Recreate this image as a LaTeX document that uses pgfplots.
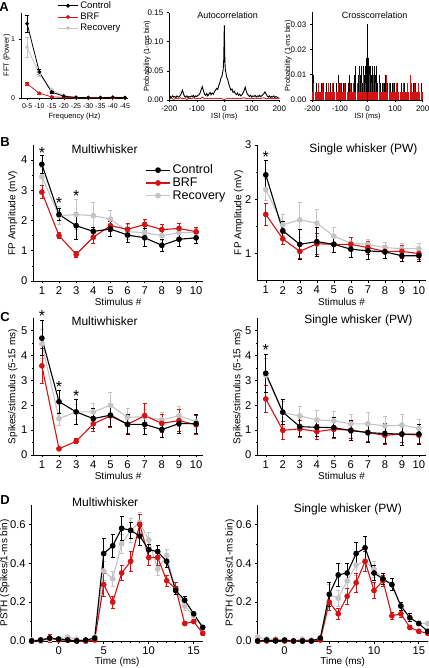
\documentclass[border=0pt]{standalone}
\usepackage{fontspec}
\setmainfont{Liberation Sans}
\usepackage{pgfplots}
\pgfplotsset{compat=1.18}
\definecolor{brf}{RGB}{210,20,20}
\definecolor{rec}{RGB}{196,196,196}
\newcommand{\fs}[1]{\fontsize{#1}{#1}\selectfont}
\pgfplotsset{
  fig/.style={scale only axis, axis lines*=left, clip=false, tick align=outside,
    major tick length=2.5pt, minor tick length=1.5pt, tick style={black,line width=0.6pt},
    axis line style={line width=0.7pt},
    /pgf/number format/assume math mode=true,
    tick label style={font=\fs{11.2}}, label style={font=\fs{11.2}}},
  yl/.style={every axis y label/.style={at={(axis description cs:0,0.5)}, rotate=90, anchor=center, yshift=#1}},
  xl/.style={every axis x label/.style={at={(axis description cs:0.5,0)}, anchor=center, yshift=-#1}},
  stim/.style={xmin=0.5, xmax=10.4, xtick={1,...,10}, xlabel={Stimulus \#}, minor y tick num=1, xl=21pt,
    xticklabel style={inner sep=2.8pt}},
  fix/.style={scaled y ticks=false, y tick label style={/pgf/number format/fixed, /pgf/number format/fixed zerofill, /pgf/number format/precision=#1}},
  psth/.style={xmin=-3, xmax=16, xtick={0,5,10,15}, ymin=0, ymax=0.7, ytick={0,0.2,0.4,0.6},
    minor y tick num=1, minor x tick num=4, xl=21pt, xticklabel style={inner sep=2.8pt},
    fix=1, xlabel={Time (ms)}, ylabel={PSTH (Spikes/1-ms bin)}},
  ser/.style={color=#1, line width=1.1pt, mark=*, mark size=2.3pt, mark options={solid, fill=#1, draw=#1},
    error bars/y dir=both, error bars/y explicit,
    error bars/error bar style={line width=0.7pt, #1},
    error bars/error mark options={rotate=90, mark size=2pt, line width=0.7pt, #1}},
  sers/.style={ser=#1, line width=0.8pt, mark size=1.5pt},
  legend image code/.code={\draw[mark repeat=2,mark phase=2,#1] plot coordinates {(0pt,0pt)(12pt,0pt)(24pt,0pt)};},
}
\begin{document}
\begin{tikzpicture}[x=1pt,y=1pt]
\path[use as bounding box] (0,0) rectangle (428,668);
\node[font=\bfseries\fs{13}] at (4,661) {A};
\node[font=\bfseries\fs{13}] at (5,526) {B};
\node[font=\bfseries\fs{13}] at (5,351) {C};
\node[font=\bfseries\fs{13}] at (5,168) {D};

% ---------- A1 FFT
\begin{axis}[fig, yl=14pt, xl=19pt, at={(21pt,570pt)}, anchor=south west, width=107pt, height=85pt,
  xmin=-0.5, xmax=8.25, ymin=0, ymax=1.44, xtick={0,...,8},
  xticklabels={0-5,-10,-15,-20,-25,-30,-35,-40,-45}, ytick={0,1},
  tick label style={font=\fs{7}}, label style={font=\fs{7.5}},
  xlabel={Frequency (Hz)}, ylabel={FFT (Power)},
  legend style={draw=none, fill=none, at={(0.34,1.16)}, anchor=north west, font=\fs{9.5}, inner sep=0pt, row sep=-1pt, cells={anchor=west}},
  legend image code/.code={\draw[mark repeat=2,mark phase=2,#1] plot coordinates {(0pt,0pt)(10pt,0pt)(20pt,0pt)};},
  reverse legend]
\addplot[sers=rec] coordinates {(0,0.86) +- (0,0.17) (1,0.40) +- (0,0.03) (2,0.14) +- (0,0.01) (3,0.04) +- (0,0.005) (4,0.015) +- (0,0.005) (5,0.01) +- (0,0.005) (6,0.005) +- (0,0.005) (7,0.02) +- (0,0.005) (8,0.005) +- (0,0.005)};
\addlegendentry{Recovery}
\addplot[sers=brf] coordinates {(0,0.24) +- (0,0.03) (1,0.08) +- (0,0.01) (2,0.02) +- (0,0.005) (3,0.01) +- (0,0.005) (4,0.005) +- (0,0.005) (5,0.003) +- (0,0.003) (6,0.003) +- (0,0.003) (7,0.005) +- (0,0.003) (8,0.003) +- (0,0.003)};
\addlegendentry{BRF}
\addplot[sers=black] coordinates {(0,1.26) +- (0,0.14) (1,0.44) +- (0,0.04) (2,0.10) +- (0,0.02) (3,0.03) +- (0,0.005) (4,0.01) +- (0,0.005) (5,0.005) +- (0,0.005) (6,0.005) +- (0,0.005) (7,0.01) +- (0,0.005) (8,0.005) +- (0,0.005)};
\addlegendentry{Control}
\end{axis}

% ---------- A2 Autocorrelation
\begin{axis}[fig, fix=2, yl=22pt, xl=17pt, at={(169.3pt,568pt)}, anchor=south west, width=110pt, height=87.3pt,
  xmin=-200, xmax=200, ymin=0, ymax=0.15, xtick={-200,-100,0,100,200}, ytick={0,0.05,0.10,0.15},
  tick label style={font=\fs{8}}, label style={font=\fs{7.5}},
  xlabel={ISI (ms)}, ylabel={Probability (1-ms bin)}]
\addplot[black, line width=0.9pt] coordinates {(-200,0.002)(-196,0.006)(-192,0.004)(-188,0.007)(-184,0.005)(-180,0.006)(-176,0.004)(-172,0.007)(-168,0.005)(-164,0.006)(-160,0.008)(-156,0.012)(-152,0.017)(-148,0.010)(-144,0.006)(-140,0.005)(-136,0.007)(-132,0.004)(-128,0.006)(-124,0.005)(-120,0.007)(-116,0.006)(-112,0.008)(-108,0.005)(-104,0.007)(-100,0.006)(-96,0.008)(-92,0.009)(-88,0.012)(-84,0.018)(-80,0.023)(-76,0.016)(-72,0.010)(-68,0.008)(-64,0.011)(-60,0.007)(-56,0.010)(-52,0.013)(-48,0.009)(-44,0.012)(-40,0.010)(-36,0.014)(-32,0.017)(-28,0.020)(-24,0.018)(-20,0.025)(-16,0.030)(-12,0.038)(-8,0.042)(-6,0.048)(-4,0.052)(-2,0.070)(0,0.128)(2,0.068)(4,0.050)(6,0.047)(8,0.040)(12,0.036)(16,0.028)(20,0.022)(24,0.017)(28,0.019)(32,0.013)(36,0.015)(40,0.011)(44,0.009)(48,0.012)(52,0.008)(56,0.010)(60,0.007)(64,0.009)(68,0.012)(72,0.016)(76,0.022)(80,0.015)(84,0.010)(88,0.008)(92,0.006)(96,0.008)(100,0.005)(104,0.007)(108,0.006)(112,0.008)(116,0.005)(120,0.007)(124,0.006)(128,0.008)(132,0.006)(136,0.007)(140,0.009)(144,0.011)(148,0.014)(152,0.010)(156,0.007)(160,0.005)(164,0.007)(168,0.004)(172,0.006)(176,0.005)(180,0.007)(184,0.004)(188,0.006)(192,0.005)(196,0.003)(200,0.004)};
\addplot[brf, line width=0.8pt] coordinates {(-200,0.002)(-192,0.003)(-184,0.001)(-176,0.003)(-168,0.002)(-160,0.004)(-152,0.002)(-144,0.003)(-136,0.001)(-128,0.003)(-120,0.002)(-112,0.004)(-104,0.002)(-96,0.003)(-88,0.002)(-80,0.005)(-72,0.002)(-64,0.003)(-56,0.002)(-48,0.003)(-40,0.002)(-32,0.003)(-24,0.002)(-16,0.003)(-8,0.002)(0,0.001)(8,0.002)(16,0.003)(24,0.002)(32,0.003)(40,0.002)(48,0.003)(56,0.002)(64,0.003)(72,0.004)(80,0.002)(88,0.003)(96,0.002)(104,0.003)(112,0.002)(120,0.003)(128,0.002)(136,0.003)(144,0.004)(152,0.002)(160,0.003)(168,0.002)(176,0.003)(184,0.002)(192,0.003)(200,0.002)};
\node[font=\fs{9}] at (rel axis cs:0.53,0.97) {Autocorrelation};
\end{axis}

% ---------- A3 Crosscorrelation
\begin{axis}[fig, fix=2, yl=24pt, xl=17pt, at={(312.3pt,568pt)}, anchor=south west, width=110.4pt, height=88.3pt,
  xmin=-200, xmax=200, ymin=0, ymax=0.035, xtick={-200,-100,0,100,200}, ytick={0,0.01,0.02,0.03},
  tick label style={font=\fs{8}}, label style={font=\fs{7.5}},
  xlabel={ISI (ms)}, ylabel={Probability (1-ms bin)}]
\addplot[ycomb, black, line width=1pt] coordinates {(-198,0.0067)(-194,0.0100)(-190,0.0033)(-186,0.0067)(-182,0.0033)(-178,0.0067)(-174,0.0033)(-170,0.0033)(-166,0.0067)(-162,0.0033)(-158,0.0067)(-154,0.0033)(-150,0.0067)(-146,0.0033)(-142,0.0067)(-138,0.0033)(-134,0.0067)(-130,0.0033)(-126,0.0033)(-122,0.0067)(-118,0.0033)(-114,0.0067)(-110,0.0033)(-106,0.0100)(-102,0.0067)(-98,0.0033)(-94,0.0067)(-90,0.0033)(-86,0.0067)(-82,0.0033)(-78,0.0067)(-74,0.0033)(-70,0.0067)(-66,0.0100)(-62,0.0033)(-58,0.0067)(-54,0.0033)(-50,0.0067)(-46,0.0100)(-42,0.0133)(-38,0.0067)(-34,0.0100)(-30,0.0133)(-26,0.0100)(-22,0.0133)(-18,0.0067)(-14,0.0133)(-10,0.0100)(-6,0.0133)(-3,0.0167)(0,0.0300)(3,0.0167)(6,0.0133)(10,0.0133)(14,0.0100)(18,0.0133)(22,0.0067)(26,0.0133)(30,0.0100)(34,0.0133)(38,0.0067)(42,0.0100)(46,0.0067)(50,0.0033)(54,0.0067)(58,0.0033)(62,0.0067)(66,0.0100)(70,0.0033)(74,0.0067)(78,0.0033)(82,0.0067)(86,0.0033)(90,0.0067)(94,0.0033)(98,0.0067)(102,0.0033)(106,0.0033)(110,0.0067)(114,0.0033)(118,0.0033)(122,0.0067)(126,0.0033)(130,0.0033)(134,0.0067)(138,0.0033)(142,0.0033)(146,0.0067)(150,0.0033)(154,0.0067)(158,0.0033)(162,0.0033)(166,0.0067)(170,0.0033)(174,0.0067)(178,0.0033)(182,0.0033)(186,0.0067)(190,0.0033)(194,0.0067)(198,0.0033)};
\addplot[ycomb, brf, line width=1pt] coordinates {(-198,0.0033)(-194,0.0067)(-190,0.0033)(-186,0.0033)(-182,0.0033)(-178,0.0067)(-174,0.0033)(-170,0.0033)(-166,0.0033)(-162,0.0067)(-158,0.0033)(-154,0.0033)(-150,0.0033)(-146,0.0033)(-142,0.0067)(-138,0.0033)(-134,0.0033)(-130,0.0033)(-126,0.0067)(-122,0.0033)(-118,0.0033)(-114,0.0033)(-110,0.0033)(-106,0.0067)(-102,0.0033)(-98,0.0067)(-94,0.0033)(-90,0.0033)(-86,0.0033)(-82,0.0067)(-78,0.0033)(-74,0.0033)(-70,0.0033)(-66,0.0033)(-62,0.0067)(-58,0.0033)(-54,0.0033)(-50,0.0067)(-46,0.0033)(-42,0.0033)(-38,0.0067)(-34,0.0033)(-30,0.0100)(-26,0.0033)(-22,0.0067)(-18,0.0033)(-14,0.0100)(-10,0.0033)(-6,0.0067)(-2,0.0033)(2,0.0033)(6,0.0100)(10,0.0033)(14,0.0067)(18,0.0033)(22,0.0100)(26,0.0033)(30,0.0067)(34,0.0033)(38,0.0033)(42,0.0067)(46,0.0033)(50,0.0033)(54,0.0033)(58,0.0067)(62,0.0033)(66,0.0033)(70,0.0100)(74,0.0033)(78,0.0067)(82,0.0033)(86,0.0033)(90,0.0033)(94,0.0067)(98,0.0033)(102,0.0033)(106,0.0067)(110,0.0033)(114,0.0033)(118,0.0033)(122,0.0033)(126,0.0033)(130,0.0067)(134,0.0033)(138,0.0033)(142,0.0033)(146,0.0067)(150,0.0033)(154,0.0100)(158,0.0067)(162,0.0033)(166,0.0033)(170,0.0067)(174,0.0033)(178,0.0033)(182,0.0033)(186,0.0067)(190,0.0033)(194,0.0033)(198,0.0033)};
\node[font=\fs{9}] at (rel axis cs:0.565,0.96) {Crosscorrelation};
\end{axis}

% ---------- B1
\begin{axis}[fig, stim, yl=20.6pt, at={(33.3pt,387pt)}, anchor=south west, width=169.7pt, height=136pt,
  ymin=0, ymax=4.5, ytick={0,1,2,3,4}, ylabel={FP Amplitude (mV)},
  legend style={draw=none, fill=none, at={(0.66,0.87)}, anchor=north west, font=\fs{12.5}, inner sep=0pt, row sep=-1.5pt, cells={anchor=west}},
  reverse legend]
\addplot[ser=rec] coordinates {(1,3.45) +- (0,0.3) (2,2.16) +- (0,0.3) (3,2.2) +- (0,0.5) (4,2.16) +- (0,0.45) (5,2.05) +- (0,0.3) (6,1.63) +- (0,0.25) (7,1.6) +- (0,0.2) (8,1.5) +- (0,0.15) (9,1.6) +- (0,0.15) (10,1.6) +- (0,0.15)};
\addlegendentry{Recovery}
\addplot[ser=brf] coordinates {(1,2.94) +- (0,0.22) (2,1.5) +- (0,0.1) (3,0.88) +- (0,0.1) (4,1.45) +- (0,0.2) (5,1.83) +- (0,0.2) (6,1.71) +- (0,0.2) (7,1.87) +- (0,0.18) (8,1.7) +- (0,0.18) (9,1.74) +- (0,0.18) (10,1.63) +- (0,0.15)};
\addlegendentry{BRF}
\addplot[ser=black] coordinates {(1,3.86) +- (0,0.3) (2,2.2) +- (0,0.2) (3,1.83) +- (0,0.45) (4,1.64) +- (0,0.15) (5,1.72) +- (0,0.25) (6,1.52) +- (0,0.25) (7,1.43) +- (0,0.3) (8,1.18) +- (0,0.2) (9,1.38) +- (0,0.25) (10,1.43) +- (0,0.18)};
\addlegendentry{Control}
\node[font=\fs{12}] at (rel axis cs:0.42,0.97) {Multiwhisker};
\node[font=\fs{16}] at (axis cs:1,4.22) {*};
\node[font=\fs{16}] at (axis cs:2,2.58) {*};
\node[font=\fs{16}] at (axis cs:3,2.8) {*};
\end{axis}

% ---------- B2
\begin{axis}[fig, stim, yl=18.5pt, at={(257.3pt,387.3pt)}, anchor=south west, width=168.4pt, height=135.7pt,
  ymin=0.5, ymax=3, ytick={1,2,3}, ylabel={FP Amplitude (mV)}]
\addplot[ser=rec] coordinates {(1,2.18) +- (0,0.2) (2,1.53) +- (0,0.2) (3,1.62) +- (0,0.32) (4,1.56) +- (0,0.25) (5,1.32) +- (0,0.16) (6,1.19) +- (0,0.1) (7,1.17) +- (0,0.1) (8,1.11) +- (0,0.1) (9,1.09) +- (0,0.1) (10,1.09) +- (0,0.1)};
\addplot[ser=brf] coordinates {(1,1.72) +- (0,0.2) (2,1.27) +- (0,0.1) (3,1.04) +- (0,0.12) (4,1.18) +- (0,0.2) (5,1.17) +- (0,0.15) (6,1.17) +- (0,0.12) (7,1.11) +- (0,0.12) (8,1.04) +- (0,0.12) (9,1.04) +- (0,0.12) (10,1.0) +- (0,0.1)};
\addplot[ser=black] coordinates {(1,2.45) +- (0,0.27) (2,1.42) +- (0,0.18) (3,1.17) +- (0,0.27) (4,1.22) +- (0,0.27) (5,1.17) +- (0,0.15) (6,1.08) +- (0,0.15) (7,1.05) +- (0,0.15) (8,1.03) +- (0,0.12) (9,0.96) +- (0,0.1) (10,0.96) +- (0,0.1)};
\node[font=\fs{12}] at (rel axis cs:0.63,0.97) {Single whisker (PW)};
\node[font=\fs{16}] at (axis cs:1,2.78) {*};
\end{axis}

% ---------- C1
\begin{axis}[fig, stim, yl=20.6pt, at={(33.3pt,213pt)}, anchor=south west, width=169.7pt, height=137pt,
  ymin=0, ymax=5.5, ytick={0,1,2,3,4,5}, ylabel={Spikes/stimulus (5-15 ms)}]
\addplot[ser=rec] coordinates {(1,4.46) +- (0,0.6) (2,1.46) +- (0,0.25) (3,1.73) +- (0,0.3) (4,1.73) +- (0,0.35) (5,2.0) +- (0,0.5) (6,1.51) +- (0,0.35) (7,1.54) +- (0,0.3) (8,1.41) +- (0,0.3) (9,1.57) +- (0,0.4) (10,1.34) +- (0,0.3)};
\addplot[ser=brf] coordinates {(1,3.58) +- (0,0.7) (2,0.25) +- (0,0.05) (3,0.55) +- (0,0.1) (4,1.25) +- (0,0.3) (5,1.57) +- (0,0.45) (6,1.23) +- (0,0.35) (7,1.58) +- (0,0.5) (8,1.27) +- (0,0.35) (9,1.38) +- (0,0.45) (10,1.21) +- (0,0.4)};
\addplot[ser=black] coordinates {(1,4.69) +- (0,0.7) (2,2.14) +- (0,0.45) (3,1.73) +- (0,0.5) (4,1.46) +- (0,0.4) (5,1.6) +- (0,0.45) (6,1.23) +- (0,0.4) (7,1.23) +- (0,0.4) (8,1.02) +- (0,0.3) (9,1.26) +- (0,0.38) (10,1.26) +- (0,0.38)};
\node[font=\fs{12}] at (rel axis cs:0.42,0.98) {Multiwhisker};
\node[font=\fs{16}] at (axis cs:1,5.6) {*};
\node[font=\fs{16}] at (axis cs:2,2.75) {*};
\node[font=\fs{16}] at (axis cs:3,2.35) {*};
\end{axis}

% ---------- C2
\begin{axis}[fig, stim, yl=19.6pt, at={(257.3pt,213pt)}, anchor=south west, width=168.4pt, height=137pt,
  ymin=0, ymax=5.5, ytick={0,1,2,3,4,5}, ylabel={Spikes/stimulus (5-15 ms)}]
\addplot[ser=rec] coordinates {(1,3.2) +- (0,0.7) (2,1.7) +- (0,0.45) (3,1.57) +- (0,0.4) (4,1.41) +- (0,0.4) (5,1.37) +- (0,0.4) (6,1.25) +- (0,0.4) (7,1.25) +- (0,0.45) (8,1.17) +- (0,0.4) (9,1.2) +- (0,0.45) (10,1.07) +- (0,0.38)};
\addplot[ser=brf] coordinates {(1,2.25) +- (0,0.55) (2,0.99) +- (0,0.35) (3,1.05) +- (0,0.35) (4,0.94) +- (0,0.3) (5,1.03) +- (0,0.35) (6,1.0) +- (0,0.35) (7,0.9) +- (0,0.35) (8,0.79) +- (0,0.35) (9,0.84) +- (0,0.35) (10,0.8) +- (0,0.35)};
\addplot[ser=black] coordinates {(1,3.28) +- (0,0.75) (2,1.72) +- (0,0.5) (3,1.14) +- (0,0.4) (4,1.11) +- (0,0.35) (5,1.1) +- (0,0.4) (6,0.98) +- (0,0.4) (7,0.9) +- (0,0.4) (8,0.86) +- (0,0.4) (9,0.84) +- (0,0.45) (10,0.84) +- (0,0.4)};
\node[font=\fs{12}] at (rel axis cs:0.6,0.98) {Single whisker (PW)};
\node[font=\fs{16}] at (axis cs:1,4.2) {*};
\end{axis}

% ---------- D1
\begin{axis}[fig, psth, yl=27pt, at={(31.7pt,27pt)}, anchor=south west, width=171pt, height=136pt]
\addplot[ser=rec] coordinates {(-3,0.005) +- (0,0.01) (-2,0.0) +- (0,0.01) (-1,0.01) +- (0,0.01) (0,0.01) +- (0,0.01) (1,0.02) +- (0,0.01) (2,0.01) +- (0,0.01) (3,0.0) +- (0,0.01) (4,0.02) +- (0,0.01) (5,0.36) +- (0,0.05) (6,0.32) +- (0,0.04) (7,0.50) +- (0,0.05) (8,0.57) +- (0,0.06) (9,0.61) +- (0,0.05) (10,0.52) +- (0,0.04) (11,0.37) +- (0,0.03) (12,0.44) +- (0,0.03) (13,0.26) +- (0,0.02) (14,0.18) +- (0,0.02) (15,0.13) +- (0,0.01) (16,0.07) +- (0,0.01)};
\addplot[ser=brf] coordinates {(-3,0.0) +- (0,0.005) (-2,0.005) +- (0,0.005) (-1,0.015) +- (0,0.02) (0,0.005) +- (0,0.005) (1,0.005) +- (0,0.005) (2,0.0) +- (0,0.005) (3,0.0) +- (0,0.005) (4,0.005) +- (0,0.005) (5,0.29) +- (0,0.06) (6,0.20) +- (0,0.03) (7,0.35) +- (0,0.04) (8,0.41) +- (0,0.05) (9,0.60) +- (0,0.05) (10,0.43) +- (0,0.04) (11,0.43) +- (0,0.04) (12,0.31) +- (0,0.03) (13,0.27) +- (0,0.03) (14,0.09) +- (0,0.01) (15,0.10) +- (0,0.01) (16,0.04) +- (0,0.01)};
\addplot[ser=black] coordinates {(-3,0.0) +- (0,0.005) (-2,0.005) +- (0,0.005) (-1,0.015) +- (0,0.01) (0,0.01) +- (0,0.01) (1,0.005) +- (0,0.005) (2,0.0) +- (0,0.005) (3,0.005) +- (0,0.005) (4,0.015) +- (0,0.01) (5,0.45) +- (0,0.08) (6,0.49) +- (0,0.06) (7,0.58) +- (0,0.06) (8,0.57) +- (0,0.04) (9,0.54) +- (0,0.05) (10,0.47) +- (0,0.03) (11,0.46) +- (0,0.03) (12,0.41) +- (0,0.03) (13,0.26) +- (0,0.02) (14,0.21) +- (0,0.02) (15,0.14) +- (0,0.01) (16,0.07) +- (0,0.01)};
\node[font=\fs{12}] at (rel axis cs:0.43,1.02) {Multiwhisker};
\end{axis}

% ---------- D2
\begin{axis}[fig, psth, yl=27.7pt, at={(257.7pt,27pt)}, anchor=south west, width=170pt, height=136pt]
\addplot[ser=rec] coordinates {(-3,0.02) +- (0,0.01) (-2,0.01) +- (0,0.01) (-1,0.01) +- (0,0.01) (0,0.005) +- (0,0.005) (1,0.0) +- (0,0.005) (2,0.01) +- (0,0.01) (3,0.005) +- (0,0.005) (4,0.01) +- (0,0.01) (5,0.24) +- (0,0.05) (6,0.22) +- (0,0.04) (7,0.31) +- (0,0.04) (8,0.39) +- (0,0.05) (9,0.41) +- (0,0.05) (10,0.37) +- (0,0.04) (11,0.32) +- (0,0.03) (12,0.29) +- (0,0.03) (13,0.18) +- (0,0.02) (14,0.12) +- (0,0.02) (15,0.09) +- (0,0.01) (16,0.09) +- (0,0.01)};
\addplot[ser=brf] coordinates {(-3,0.0) +- (0,0.005) (-2,0.0) +- (0,0.005) (-1,0.005) +- (0,0.005) (0,0.0) +- (0,0.005) (1,0.0) +- (0,0.005) (2,0.0) +- (0,0.005) (3,0.0) +- (0,0.005) (4,0.005) +- (0,0.005) (5,0.20) +- (0,0.04) (6,0.14) +- (0,0.03) (7,0.23) +- (0,0.04) (8,0.30) +- (0,0.05) (9,0.41) +- (0,0.05) (10,0.26) +- (0,0.04) (11,0.31) +- (0,0.03) (12,0.13) +- (0,0.02) (13,0.14) +- (0,0.02) (14,0.07) +- (0,0.01) (15,0.05) +- (0,0.01) (16,0.04) +- (0,0.01)};
\addplot[ser=black] coordinates {(-3,0.0) +- (0,0.005) (-2,0.005) +- (0,0.005) (-1,0.0) +- (0,0.005) (0,0.005) +- (0,0.005) (1,0.0) +- (0,0.005) (2,0.0) +- (0,0.005) (3,0.0) +- (0,0.005) (4,0.015) +- (0,0.01) (5,0.24) +- (0,0.06) (6,0.34) +- (0,0.06) (7,0.35) +- (0,0.05) (8,0.45) +- (0,0.06) (9,0.48) +- (0,0.06) (10,0.35) +- (0,0.04) (11,0.32) +- (0,0.03) (12,0.29) +- (0,0.03) (13,0.18) +- (0,0.02) (14,0.12) +- (0,0.02) (15,0.09) +- (0,0.01) (16,0.05) +- (0,0.01)};
\node[font=\fs{12}] at (rel axis cs:0.53,0.97) {Single whisker (PW)};
\end{axis}
\end{tikzpicture}
\end{document}
